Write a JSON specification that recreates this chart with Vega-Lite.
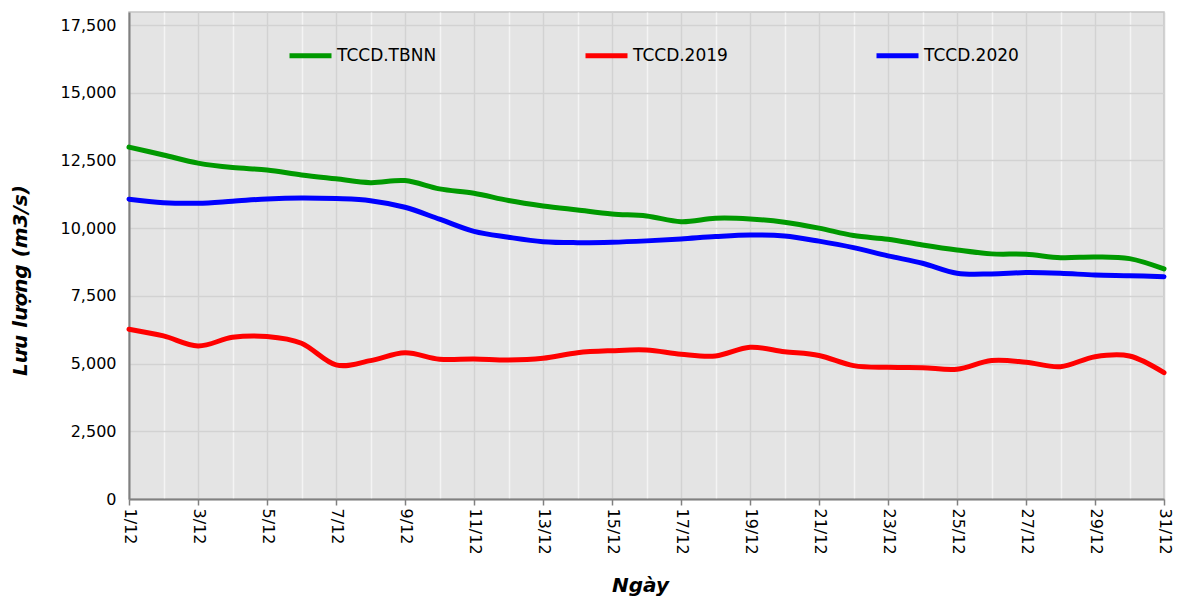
{
  "$schema": "https://vega.github.io/schema/vega-lite/v6.json",
  "width": 1035,
  "height": 487,
  "autosize": {"type": "none"},
  "padding": {"left": 129, "top": 12, "right": 15, "bottom": 99},
  "background": "white",
  "config": {
    "view": {"fill": "#e4e4e4", "stroke": "#c4c4c4", "strokeWidth": 1.5},
    "font": "DejaVu Sans"
  },
  "data": {"values": [
    {"day":1,"series":"TCCD.TBNN","value":12990},{"day":2,"series":"TCCD.TBNN","value":12700},{"day":3,"series":"TCCD.TBNN","value":12400},{"day":4,"series":"TCCD.TBNN","value":12235},{"day":5,"series":"TCCD.TBNN","value":12150},{"day":6,"series":"TCCD.TBNN","value":11965},{"day":7,"series":"TCCD.TBNN","value":11820},{"day":8,"series":"TCCD.TBNN","value":11680},{"day":9,"series":"TCCD.TBNN","value":11755},{"day":10,"series":"TCCD.TBNN","value":11450},{"day":11,"series":"TCCD.TBNN","value":11290},{"day":12,"series":"TCCD.TBNN","value":11020},{"day":13,"series":"TCCD.TBNN","value":10820},{"day":14,"series":"TCCD.TBNN","value":10670},{"day":15,"series":"TCCD.TBNN","value":10525},{"day":16,"series":"TCCD.TBNN","value":10450},{"day":17,"series":"TCCD.TBNN","value":10240},{"day":18,"series":"TCCD.TBNN","value":10365},{"day":19,"series":"TCCD.TBNN","value":10340},{"day":20,"series":"TCCD.TBNN","value":10220},{"day":21,"series":"TCCD.TBNN","value":10000},{"day":22,"series":"TCCD.TBNN","value":9725},{"day":23,"series":"TCCD.TBNN","value":9590},{"day":24,"series":"TCCD.TBNN","value":9380},{"day":25,"series":"TCCD.TBNN","value":9195},{"day":26,"series":"TCCD.TBNN","value":9050},{"day":27,"series":"TCCD.TBNN","value":9035},{"day":28,"series":"TCCD.TBNN","value":8910},{"day":29,"series":"TCCD.TBNN","value":8935},{"day":30,"series":"TCCD.TBNN","value":8875},{"day":31,"series":"TCCD.TBNN","value":8495},
    {"day":1,"series":"TCCD.2019","value":6270},{"day":2,"series":"TCCD.2019","value":6020},{"day":3,"series":"TCCD.2019","value":5650},{"day":4,"series":"TCCD.2019","value":5970},{"day":5,"series":"TCCD.2019","value":6000},{"day":6,"series":"TCCD.2019","value":5750},{"day":7,"series":"TCCD.2019","value":4950},{"day":8,"series":"TCCD.2019","value":5110},{"day":9,"series":"TCCD.2019","value":5400},{"day":10,"series":"TCCD.2019","value":5160},{"day":11,"series":"TCCD.2019","value":5170},{"day":12,"series":"TCCD.2019","value":5130},{"day":13,"series":"TCCD.2019","value":5195},{"day":14,"series":"TCCD.2019","value":5400},{"day":15,"series":"TCCD.2019","value":5475},{"day":16,"series":"TCCD.2019","value":5500},{"day":17,"series":"TCCD.2019","value":5345},{"day":18,"series":"TCCD.2019","value":5280},{"day":19,"series":"TCCD.2019","value":5600},{"day":20,"series":"TCCD.2019","value":5440},{"day":21,"series":"TCCD.2019","value":5300},{"day":22,"series":"TCCD.2019","value":4925},{"day":23,"series":"TCCD.2019","value":4860},{"day":24,"series":"TCCD.2019","value":4850},{"day":25,"series":"TCCD.2019","value":4790},{"day":26,"series":"TCCD.2019","value":5110},{"day":27,"series":"TCCD.2019","value":5050},{"day":28,"series":"TCCD.2019","value":4885},{"day":29,"series":"TCCD.2019","value":5255},{"day":30,"series":"TCCD.2019","value":5280},{"day":31,"series":"TCCD.2019","value":4665},
    {"day":1,"series":"TCCD.2020","value":11070},{"day":2,"series":"TCCD.2020","value":10940},{"day":3,"series":"TCCD.2020","value":10920},{"day":4,"series":"TCCD.2020","value":10995},{"day":5,"series":"TCCD.2020","value":11080},{"day":6,"series":"TCCD.2020","value":11115},{"day":7,"series":"TCCD.2020","value":11090},{"day":8,"series":"TCCD.2020","value":11015},{"day":9,"series":"TCCD.2020","value":10770},{"day":10,"series":"TCCD.2020","value":10330},{"day":11,"series":"TCCD.2020","value":9880},{"day":12,"series":"TCCD.2020","value":9665},{"day":13,"series":"TCCD.2020","value":9500},{"day":14,"series":"TCCD.2020","value":9465},{"day":15,"series":"TCCD.2020","value":9480},{"day":16,"series":"TCCD.2020","value":9530},{"day":17,"series":"TCCD.2020","value":9600},{"day":18,"series":"TCCD.2020","value":9690},{"day":19,"series":"TCCD.2020","value":9750},{"day":20,"series":"TCCD.2020","value":9710},{"day":21,"series":"TCCD.2020","value":9520},{"day":22,"series":"TCCD.2020","value":9280},{"day":23,"series":"TCCD.2020","value":8975},{"day":24,"series":"TCCD.2020","value":8705},{"day":25,"series":"TCCD.2020","value":8335},{"day":26,"series":"TCCD.2020","value":8310},{"day":27,"series":"TCCD.2020","value":8360},{"day":28,"series":"TCCD.2020","value":8335},{"day":29,"series":"TCCD.2020","value":8270},{"day":30,"series":"TCCD.2020","value":8245},{"day":31,"series":"TCCD.2020","value":8210}
  ]},
  "mark": {"type": "line", "interpolate": "cardinal", "strokeWidth": 5, "strokeCap": "round", "strokeJoin": "round"},
  "encoding": {
    "x": {
      "field": "day", "type": "quantitative",
      "scale": {"domain": [1, 31], "nice": false, "zero": false},
      "axis": {
        "values": [1,2,3,4,5,6,7,8,9,10,11,12,13,14,15,16,17,18,19,20,21,22,23,24,25,26,27,28,29,30,31],
        "labelExpr": "datum.value % 2 === 1 ? datum.value + '/12' : ''",
        "labelAngle": 90, "labelAlign": "left", "labelBaseline": "middle",
        "labelOverlap": false, "labelFlush": false, "labelBound": false,
        "labelFontSize": 16, "labelColor": "#000000", "labelPadding": 3,
        "grid": true,
        "gridColor": {"condition": {"test": "datum.value % 2 === 0", "value": "#f4f4f4"}, "value": "#d2d2d2"},
        "gridWidth": 1.5,
        "ticks": true, "tickSize": 6, "tickColor": "#808080", "tickWidth": 1.5,
        "tickOpacity": {"condition": {"test": "datum.value % 2 === 0", "value": 0}, "value": 1},
        "domainColor": "#808080", "domainWidth": 2,
        "title": "Ngày", "titleFontSize": 20, "titleFontWeight": "bold", "titleFontStyle": "italic",
        "titleColor": "#000000", "titleY": 86, "titleX": 511, "titleBaseline": "middle"
      }
    },
    "y": {
      "field": "value", "type": "quantitative",
      "scale": {"domain": [0, 17980], "nice": false},
      "axis": {
        "values": [0, 2500, 5000, 7500, 10000, 12500, 15000, 17500],
        "format": ",.0f",
        "labelFontSize": 16, "labelColor": "#000000", "labelPadding": 13,
        "ticks": false,
        "grid": true, "gridColor": "#d2d2d2", "gridWidth": 1.5,
        "domainColor": "#808080", "domainWidth": 2,
        "title": "Lưu lượng (m3/s)", "titleFontSize": 20, "titleFontWeight": "bold", "titleFontStyle": "italic",
        "titleColor": "#000000", "titleX": -109, "titleY": 268, "titleAngle": -90, "titleAlign": "center", "titleBaseline": "middle"
      }
    },
    "color": {
      "field": "series", "type": "nominal",
      "scale": {"domain": ["TCCD.TBNN", "TCCD.2019", "TCCD.2020"], "range": ["#009900", "#ff0000", "#0000ff"]},
      "legend": {
        "title": null, "orient": "none", "direction": "horizontal", "columns": 3,
        "legendX": 158, "legendY": 20,
        "symbolType": "stroke", "symbolSize": 1764, "symbolStrokeWidth": 5,
        "labelFontSize": 17, "labelColor": "#000000", "labelOffset": 3,
        "columnPadding": 138
      }
    }
  }
}
